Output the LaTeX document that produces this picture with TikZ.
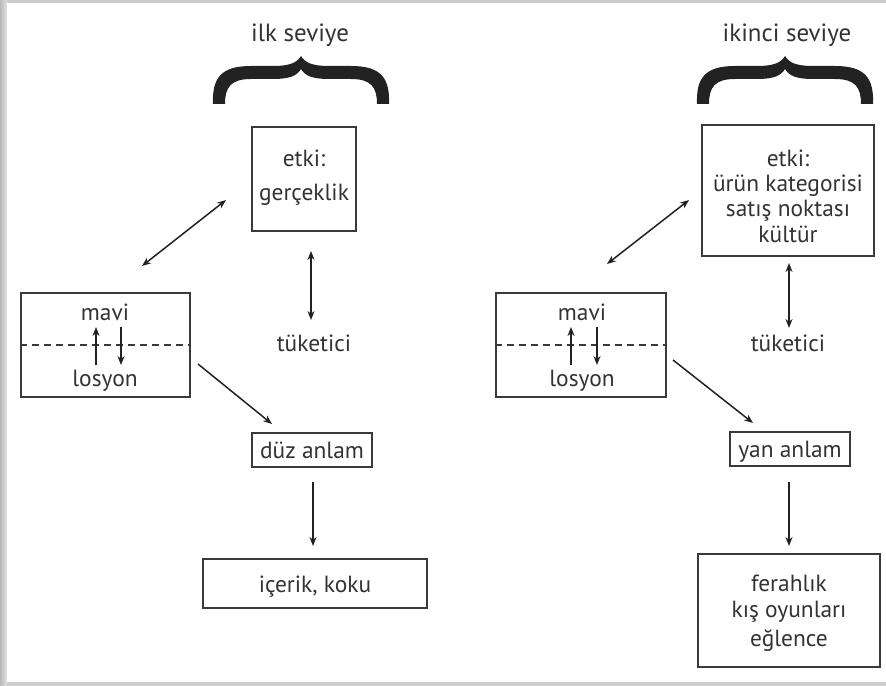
\documentclass[tikz,border=0pt]{standalone}
\usepackage{fontspec}
\setmainfont{PT Sans}
\usetikzlibrary{arrows.meta}
\definecolor{ink}{HTML}{3A3A3A}
\definecolor{txt}{HTML}{333333}
\definecolor{brc}{HTML}{222222}
\tikzset{
  lbl/.style={text=txt, inner sep=0pt, font=\fontsize{23.5}{28}\selectfont},
  ttl/.style={lbl, font=\fontsize{25}{29}\selectfont},
  boxnode/.style={draw=ink, line width=1.8bp, inner sep=0pt},
  arr/.style={draw=brc, line width=1.5bp, -{Stealth[length=9bp,width=7bp]}},
  darr/.style={draw=brc, line width=1.5bp, {Stealth[length=9bp,width=7bp]}-{Stealth[length=9bp,width=7bp]}},
  sep/.style={draw=ink, line width=1.4bp, dash pattern=on 7bp off 5bp},
  bracepic/.pic={
    \fill[brc] (-88,48) .. controls (-89,22) and (-80,10) .. (-50,10) -- (-28,10)
      .. controls (-12,10) and (-4,7) .. (0,0)
      .. controls (4,7) and (12,10) .. (28,10) -- (50,10)
      .. controls (80,10) and (89,22) .. (88,48) -- (76,48)
      .. controls (76,31) and (70,23) .. (50,23) -- (28,23)
      .. controls (12,23) and (4,20) .. (0,13)
      .. controls (-4,20) and (-12,23) .. (-28,23) -- (-50,23)
      .. controls (-70,23) and (-76,31) .. (-76,48) -- cycle;
  }
}
\begin{document}
\begin{tikzpicture}[x=1bp, y=-1bp]
% page frame with its grey shadow
\useasboundingbox (0,0) rectangle (886,686);
\fill[gray!40] (0,0) rectangle (886,686);
\shade[left color=gray!55, right color=gray!22] (0,0) rectangle (7,686);
\fill[white] (7,3) rectangle (886,682);

% ---------- first level ----------
\node[ttl, anchor=base] (t1) at (300,42) {ilk seviye};
\pic at (301,56) {bracepic};

\node[boxnode, minimum width=104bp, minimum height=104bp] (Letki) at (304,179) {};
\node[lbl, anchor=base] (Le1) at (304,167) {etki:};
\node[lbl, anchor=base] (Le2) at (304,200) {gerçeklik};

\node[boxnode, minimum width=169bp, minimum height=104bp] (Lmavi) at (105.5,345) {};
\draw[sep] (Lmavi.west) -- (Lmavi.east);
\node[lbl, anchor=base] (Lmv) at (105,320) {mavi};
\node[lbl, anchor=base] (Lls) at (105,386) {losyon};
\coordinate (Lu1) at (96,365); \coordinate (Lu2) at (96,327);
\coordinate (Ld1) at (121,327); \coordinate (Ld2) at (121,365);
\draw[arr] (Lu1) -- (Lu2);
\draw[arr] (Ld1) -- (Ld2);

\node[lbl, anchor=base] (Ltuk) at (314,351) {tüketici};
\node[boxnode, minimum width=120bp, minimum height=34bp] (Lduz) at (312,450) {};
\node[lbl, anchor=base] (Lduzt) at (312,458) {düz anlam};
\node[boxnode, minimum width=224bp, minimum height=49bp] (Licr) at (315,583.5) {};
\node[lbl, anchor=base] (Licrt) at (315,592) {içerik, koku};

\coordinate (La1) at (142,266); \coordinate (La2) at (226,200);
\draw[darr] (La1) -- (La2);
\coordinate (Lb1) at (311,251); \coordinate (Lb2) at (311,320);
\draw[darr] (Lb1) -- (Lb2);
\coordinate (Lc1) at (198,364); \coordinate (Lc2) at (272,424);
\draw[arr] (Lc1) -- (Lc2);
\coordinate (Ld3) at (313,482); \coordinate (Ld4) at (313,546);
\draw[arr] (Ld3) -- (Ld4);

% ---------- second level ----------
\node[ttl, anchor=base] (t2) at (787,42) {ikinci seviye};
\pic at (785,56) {bracepic};

\node[boxnode, minimum width=172bp, minimum height=131bp] (Retki) at (788,190.5) {};
\node[lbl, anchor=base] (Re1) at (788,167) {etki:};
\node[lbl, anchor=base] (Re2) at (788,191) {ürün kategorisi};
\node[lbl, anchor=base] (Re3) at (788,216) {satış noktası};
\node[lbl, anchor=base] (Re4) at (788,242) {kültür};

\node[boxnode, minimum width=170bp, minimum height=104bp] (Rmavi) at (581,345) {};
\draw[sep] (Rmavi.west) -- (Rmavi.east);
\node[lbl, anchor=base] (Rmv) at (582,320) {mavi};
\node[lbl, anchor=base] (Rls) at (582,386) {losyon};
\coordinate (Ru1) at (571,365); \coordinate (Ru2) at (571,327);
\coordinate (Rd1) at (597,327); \coordinate (Rd2) at (597,365);
\draw[arr] (Ru1) -- (Ru2);
\draw[arr] (Rd1) -- (Rd2);

\node[lbl, anchor=base] (Rtuk) at (788,351) {tüketici};
\node[boxnode, minimum width=120bp, minimum height=34bp] (Ryan) at (790,449) {};
\node[lbl, anchor=base] (Ryant) at (790,457) {yan anlam};
\node[boxnode, minimum width=182bp, minimum height=113bp] (Rfer) at (789,610.5) {};
\node[lbl, anchor=base] (Rf1) at (789,591) {ferahlık};
\node[lbl, anchor=base] (Rf2) at (789,617) {kış oyunları};
\node[lbl, anchor=base] (Rf3) at (789,646) {eğlence};

\coordinate (Ra1) at (607,264); \coordinate (Ra2) at (689,200);
\draw[darr] (Ra1) -- (Ra2);
\coordinate (Rb1) at (789,263); \coordinate (Rb2) at (789,328);
\draw[darr] (Rb1) -- (Rb2);
\coordinate (Rc1) at (673,360); \coordinate (Rc2) at (753,423);
\draw[arr] (Rc1) -- (Rc2);
\coordinate (Rd3) at (789,482); \coordinate (Rd4) at (789,546);
\draw[arr] (Rd3) -- (Rd4);
\end{tikzpicture}
\end{document}
